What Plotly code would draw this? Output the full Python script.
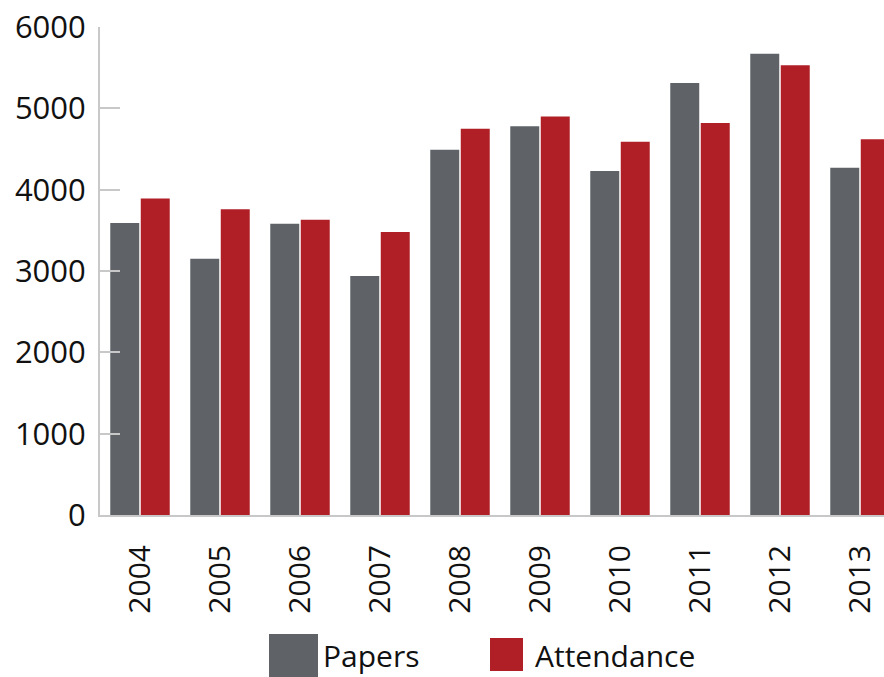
import plotly.graph_objects as go

years = ["2004", "2005", "2006", "2007", "2008", "2009", "2010", "2011", "2012", "2013"]
papers = [3590, 3150, 3580, 2940, 4490, 4780, 4230, 5310, 5670, 4270]
attendance = [3890, 3760, 3630, 3480, 4750, 4900, 4590, 4820, 5530, 4620]
series_names = ["Papers", "Attendance"]
y_ticks = [0, 1000, 2000, 3000, 4000, 5000, 6000]

GRAY = "#5F6368"
RED = "#B01F25"
FONT = "Open Sans"

W, H = 884, 677
L, T, B = 100, 27, 162
PW, PH = W - L, H - T - B

fig = go.Figure()
fig.add_trace(go.Bar(x=years, y=papers, name=series_names[0], marker=dict(color=GRAY, line=dict(width=0))))
fig.add_trace(go.Bar(x=years, y=attendance, name=series_names[1], marker=dict(color=RED, line=dict(width=0))))


def px_x(p):
    return (p - L) / PW


def px_y(p):
    return (H - B - p) / PH


# custom legend
legend_items = [
    (series_names[0], GRAY, (269, 318, 634, 683), 321, 655),
    (series_names[1], RED, (490, 523, 638, 671), 533, 655),
]
for name, col, (x0, x1, y0, y1), tx, ty in legend_items:
    fig.add_shape(type="rect", xref="paper", yref="paper",
                  x0=px_x(x0), x1=px_x(x1), y0=px_y(y0), y1=px_y(y1),
                  fillcolor=col, line=dict(width=0), layer="above")
    fig.add_annotation(text=name, xref="paper", yref="paper", x=px_x(tx), y=px_y(ty),
                       xanchor="left", yanchor="middle", showarrow=False,
                       font=dict(family=FONT, size=30, color="#111111"))

fig.update_layout(
    width=W, height=H,
    margin=dict(l=L, r=0, t=T, b=B, pad=0),
    paper_bgcolor="white", plot_bgcolor="white",
    barmode="group", bargap=0.2375, bargroupgap=0.05,
    showlegend=False,
    font=dict(family=FONT, color="#111111"),
)
fig.update_xaxes(
    type="category", range=[-0.5, 9.3],
    showline=True, linecolor="#C8C8C8", linewidth=2,
    showgrid=False, ticks="", tickangle=-90,
    tickfont=dict(family=FONT, size=30, color="#111111"),
    ticklabelstandoff=16,
)
fig.update_yaxes(
    range=[0, 6000], tickvals=y_ticks,
    showline=True, linecolor="#C8C8C8", linewidth=2,
    showgrid=False, zeroline=False,
    ticks="inside", ticklen=20, tickwidth=2, tickcolor="#C8C8C8",
    tickfont=dict(family=FONT, size=31, color="#111111"),
    ticklabelstandoff=6,
)
fig.write_html(
    "out.html",
    config={"displayModeBar": False},
    post_script="document.body.style.margin='0';document.body.style.overflow='hidden';",
)
